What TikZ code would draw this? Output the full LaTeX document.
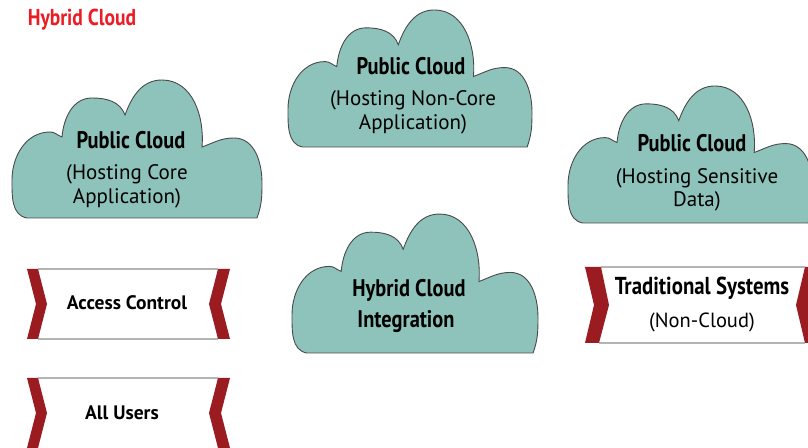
\documentclass[tikz,border=0pt]{standalone}
\usepackage{fontspec}
\setmainfont{PT Sans}
\newfontfamily\condfont{PT Sans}[FakeStretch=0.85]
\definecolor{cloudfill}{HTML}{8DC3BB}
\definecolor{cloudline}{HTML}{4A4A4A}
\definecolor{chevred}{HTML}{9B1C20}
\definecolor{bannergray}{HTML}{B4B4B4}
\definecolor{titlered}{HTML}{EC1C24}
\tikzset{
  cloudshape/.style={fill=cloudfill, draw=cloudline, line width=0.9pt},
  cloudpic/.pic={\path[cloudshape] (15,0) to[out=170,in=270] (0,38) to[out=90,in=180] (38,86)
     to[out=0,in=160] (50,81) to[out=85,in=180] (80,120) to[out=0,in=110] (113,103)
     to[out=70,in=180] (150,138) to[out=0,in=85] (190,71) to[out=20,in=180] (222,80)
     to[out=0,in=90] (250,35) to[out=270,in=70] (245,0) -- cycle;},
  chev/.style={fill=chevred},
  bline/.style={draw=bannergray, line width=1.4pt},
  ttl/.style={font=\condfont\bfseries\fontsize{24}{28}\selectfont, inner sep=0},
  sub/.style={font=\fontsize{21}{24}\selectfont, inner sep=0},
  btxt/.style={font=\bfseries\fontsize{19.5}{22}\selectfont, inner sep=0},
}
\begin{document}
\begin{tikzpicture}[x=1pt,y=1pt]
\useasboundingbox (0,0) rectangle (808,447);
\fill[white] (0,0) rectangle (808,447);
% title
\node[ttl, text=titlered, font=\condfont\bfseries\fontsize{23}{26}\selectfont] (title) at (82,427) {Hybrid Cloud};
% clouds
\pic at (12,229) {cloudpic};
\pic[xscale=0.976, yscale=0.993] at (288,300) {cloudpic};
\pic[xscale=0.98, yscale=0.993] at (568,224) {cloudpic};
\pic[xscale=0.984, yscale=1.007] at (292,94) {cloudpic};
% cloud texts
\node[ttl] (c1t) at (131,307) {Public Cloud};
\node[sub] (c1a) at (127,273) {(Hosting Core};
\node[sub] (c1b) at (127,249) {Application)};
\node[ttl] (c2t) at (411,381) {Public Cloud};
\node[sub] (c2a) at (413,347) {(Hosting Non-Core};
\node[sub] (c2b) at (413,323) {Application)};
\node[ttl] (c3t) at (692,304) {Public Cloud};
\node[sub] (c3a) at (697,269) {(Hosting Sensitive};
\node[sub] (c3b) at (697,246) {Data)};
\node[ttl] (c4t) at (409,157) {Hybrid Cloud};
\node[ttl] (c4b) at (406,125) {Integration};
% banner: access control
\draw[bline] (38,178) -- (218,178);
\draw[bline] (38,108) -- (218,108);
\fill[chev] (27,178) -- (38,178) -- (47,143) -- (38,108) -- (27,108) -- (36,143) -- cycle;
\fill[chev] (218,178) -- (230,178) -- (221,143) -- (230,108) -- (218,108) -- (209,143) -- cycle;
\node[btxt] (ac) at (127,144) {Access Control};
% banner: all users
\draw[bline] (38,69) -- (218,69);
\fill[chev] (27,69) -- (38,69) -- (47,34) -- (38,-1) -- (27,-1) -- (36,34) -- cycle;
\fill[chev] (218,69) -- (230,69) -- (221,34) -- (230,-1) -- (218,-1) -- (209,34) -- cycle;
\node[btxt] (au) at (122,34) {All Users};
% banner: traditional systems
\draw[bline] (601,180) -- (805,180);
\draw[bline] (599,104) -- (805,104);
\fill[chev] (585,180) -- (601,180) -- (609,142) -- (599,104) -- (585,104) -- (594,142) -- cycle;
\fill[chev] (805,180) -- (821,180) -- (812,142) -- (821,104) -- (805,104) -- (796,142) -- cycle;
\node[ttl, font=\condfont\bfseries\fontsize{24.5}{28}\selectfont] (ts) at (702,159) {Traditional Systems};
\node[sub, font=\fontsize{20.5}{24}\selectfont] (nc) at (702,125) {(Non-Cloud)};
\end{tikzpicture}
\end{document}
